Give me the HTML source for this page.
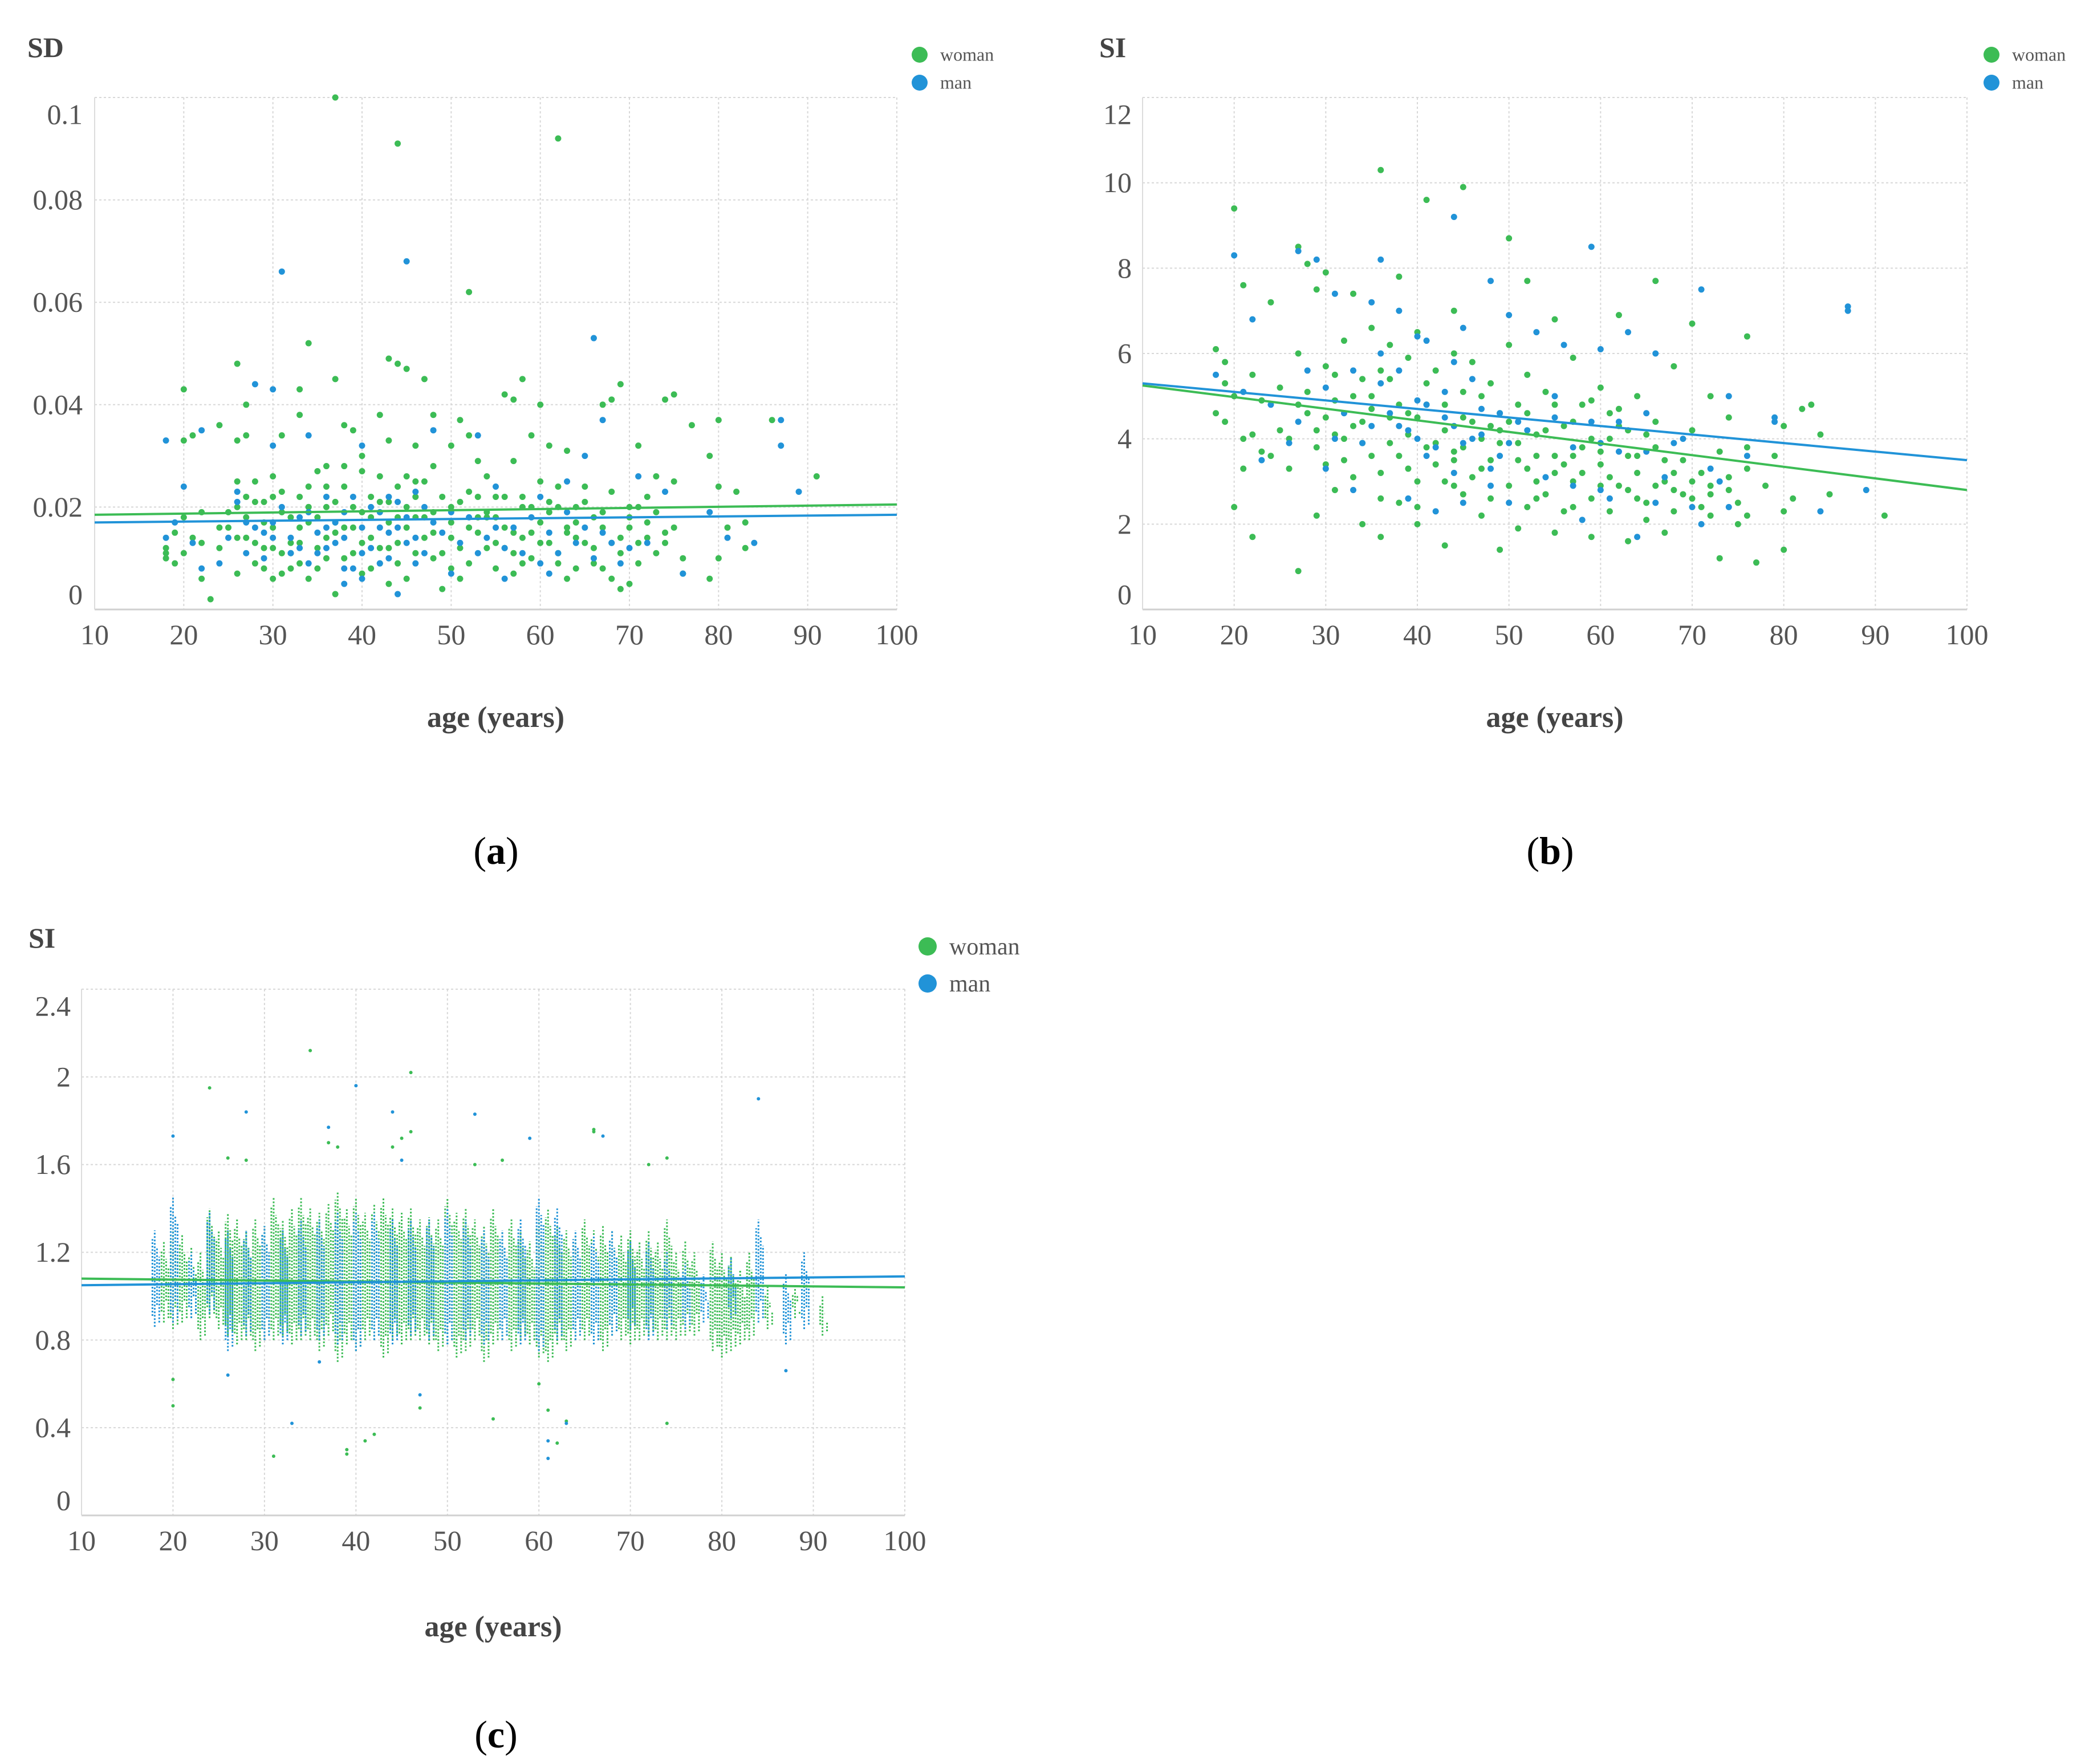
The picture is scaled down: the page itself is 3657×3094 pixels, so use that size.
<!DOCTYPE html>
<html><head><meta charset="utf-8"><style>
html,body{margin:0;padding:0;background:#fff}
svg{display:block;font-family:"Liberation Serif",serif}
</style></head><body>
<svg id="chart" width="3657" height="3094" viewBox="0 0 3657 3094" xmlns="http://www.w3.org/2000/svg"></svg>
<script>
// ---------- Panel (a): SD ----------
const aWomanAge=[37,44,62,52,34,43,44,45,26,47,37,58,69,20,33,56,57,75,74,27,60,67,68,77,80,86,91,24,33,42,48,51,18,20,21,26,27,31,38,39,43,46,50,52,59,61,63,71,79,82,83,83,81,80,80,79,76,75,73,72,71,70,69,68,66,64,64,62,61,60,59,58,57,56,55,55,54,53,52,51,50,50,49,48,47,46,45,44,44,43,43,42,41,41,40,40,39,38,37,37,36,36,35,35,34,34,33,33,32,32,31,31,30,30,29,29,28,28,27,27,26,26,25,24,23,22,22,21,20,19,19,18,38,42,45,48,53,57,62,65,67,74,76,40,36,34,30,46,54,58,63,70,72];
const aWomanVal=[.1,.091,.092,.062,.052,.049,.048,.047,.048,.045,.045,.045,.044,.043,.043,.042,.041,.042,.041,.04,.04,.04,.041,.036,.037,.037,.026,.036,.038,.038,.038,.037,.011,.033,.034,.033,.034,.034,.036,.035,.033,.032,.032,.034,.034,.032,.031,.032,.03,.023,.017,.012,.016,.024,.01,.006,.01,.025,.026,.014,.02,.005,.004,.006,.012,.02,.008,.024,.013,.017,.01,.02,.015,.022,.018,.008,.012,.022,.016,.012,.02,.008,.004,.015,.025,.011,.02,.013,.024,.017,.005,.009,.022,.014,.019,.007,.011,.024,.015,.003,.02,.01,.027,.012,.017,.006,.022,.013,.018,.008,.023,.011,.016,.006,.021,.012,.025,.009,.018,.014,.02,.007,.016,.012,.002,.019,.006,.014,.011,.009,.015,.012,.028,.026,.026,.028,.029,.029,.02,.024,.019,.013,.007,.03,.028,.024,.022,.018,.026,.014,.016,.018,.022];
const aWomanExtra=[[25,.019],[26,.014],[28,.021],[29,.008],[30,.012],[31,.019],[32,.013],[33,.009],[34,.02],[35,.018],[36,.014],[37,.021],[38,.01],[39,.016],[40,.013],[41,.018],[42,.021],[43,.012],[44,.009],[45,.016],[46,.022],[47,.014],[48,.019],[49,.011],[50,.017],[51,.021],[52,.009],[53,.015],[54,.019],[55,.013],[56,.016],[57,.011],[58,.009],[59,.02],[60,.013],[61,.019],[62,.011],[63,.015],[64,.017],[65,.013],[66,.009],[67,.016],[68,.013],[69,.011],[70,.02],[71,.009],[72,.017],[73,.011],[74,.015],[75,.016],[28,.013],[30,.026],[32,.011],[34,.02],[36,.024],[38,.016],[40,.027],[42,.012],[44,.018],[46,.025],[48,.01],[50,.014],[52,.023],[54,.018],[56,.012],[58,.022],[60,.025],[62,.009],[64,.014],[66,.018],[68,.023],[70,.016],[29,.017],[31,.007],[33,.016],[35,.008],[37,.017],[39,.02],[41,.008],[43,.021],[45,.006],[47,.018],[49,.022],[51,.006],[53,.018],[55,.022],[57,.007],[59,.015],[61,.021],[63,.006],[65,.021],[67,.008],[69,.014],[71,.013],[73,.019],[26,.025],[27,.022],[24,.016],[22,.013],[20,.018],[18,.01]];
const aManAge=[31,45,66,28,30,87,87,89,18,22,20,26,30,34,40,43,46,48,53,55,60,63,65,67,71,74,79,81,84,76,72,69,67,64,61,60,58,56,54,52,50,49,47,45,44,43,42,41,40,39,38,37,36,35,34,33,32,31,30,29,28,27,26,24,22,21,18,19,38,46,57,62,70];
const aManVal=[.066,.068,.053,.044,.043,.037,.032,.023,.033,.035,.024,.023,.032,.034,.032,.022,.023,.035,.034,.024,.022,.025,.03,.037,.026,.023,.019,.014,.013,.007,.013,.009,.015,.013,.007,.009,.011,.006,.014,.018,.007,.015,.02,.013,.003,.01,.016,.012,.006,.008,.019,.013,.022,.015,.009,.018,.011,.02,.014,.01,.016,.011,.021,.009,.008,.013,.014,.017,.005,.009,.016,.011,.012];
const aManExtra=[[30,.017],[32,.014],[34,.019],[36,.012],[37,.017],[38,.014],[39,.022],[40,.016],[41,.02],[42,.009],[43,.015],[44,.021],[45,.018],[46,.014],[47,.011],[48,.017],[50,.019],[51,.013],[53,.011],[55,.016],[56,.012],[59,.018],[61,.015],[63,.019],[65,.016],[66,.01],[68,.013],[40,.011],[42,.019],[44,.016],[36,.016],[38,.008],[33,.012],[35,.011],[29,.015],[27,.017],[25,.014]];
const aTrendWoman=[0.0185,0.0205]; // value at age 10, at age 100
const aTrendMan=[0.0170,0.0185];
const aYTicks=[0,0.02,0.04,0.06,0.08,0.1];
const aYLabels=["0","0.02","0.04","0.06","0.08","0.1"];

// ---------- Panel (b): SI ----------
const bWomanAge=[20,36,41,45,50,27,28,30,21,24,29,33,38,44,52,66,62,70,76,18,19,22,25,27,30,32,34,35,37,39,40,42,44,46,48,50,52,54,55,57,58,60,62,64,66,68,70,72,74,76,80,82,83,84,20,22,27,29,31,34,36,38,40,43,45,47,49,51,53,55,57,59,61,63,65,67,69,71,73,75,77,80,80,85,91,19,21,23,25,26,28,29,31,32,33,34,35,36,37,38,39,40,41,42,43,44,45,46,47,48,49,50,51,52,53,54,55,56,57,58,59,60,61,62,63,64,65,66,67,68,69,70,71,72,73,74,75,76,78,79,81];
const bWomanVal=[9.4,10.3,9.6,9.9,8.7,8.5,8.1,7.9,7.6,7.2,7.5,7.4,7.8,7.0,7.7,7.7,6.9,6.7,6.4,6.1,5.8,5.5,5.2,6.0,5.7,6.3,5.4,6.6,6.2,5.9,6.5,5.6,6.0,5.8,5.3,6.2,5.5,5.1,6.8,5.9,4.8,5.2,4.7,5.0,4.4,5.7,4.2,5.0,4.5,3.8,4.3,4.7,4.8,4.1,2.4,1.7,0.9,2.2,2.8,2.0,1.7,2.5,2.0,1.5,2.7,2.2,1.4,1.9,2.6,1.8,2.4,1.7,2.3,1.6,2.1,1.8,2.7,2.4,1.2,2.0,1.1,1.4,2.3,2.7,2.2,4.4,4.0,3.7,4.2,3.3,4.6,3.8,4.9,3.5,4.3,3.9,4.7,3.2,4.5,3.6,4.1,3.0,4.8,3.4,4.2,3.7,4.5,3.1,4.0,3.5,4.6,2.9,3.9,3.3,4.1,2.7,3.6,4.3,3.0,3.8,2.6,3.4,4.0,2.9,3.6,3.2,2.5,3.8,3.0,2.8,3.5,2.6,3.2,2.2,3.7,2.8,2.5,3.3,2.9,3.6,2.6];
const bWomanExtra=[[28,5.1],[29,4.2],[30,3.4],[31,5.5],[32,4.0],[33,5.0],[34,4.4],[35,3.6],[36,5.6],[37,3.9],[38,4.8],[39,3.3],[40,4.5],[41,5.3],[42,3.9],[43,4.8],[44,3.5],[45,5.1],[46,4.4],[47,3.3],[48,4.3],[49,3.9],[50,4.4],[51,3.5],[52,4.6],[53,3.0],[54,4.2],[55,4.8],[56,3.4],[57,4.4],[58,3.2],[59,4.0],[60,3.7],[61,3.1],[62,4.3],[63,2.8],[64,3.6],[65,4.1],[66,2.9],[67,3.5],[68,3.2],[70,3.0],[72,2.7],[74,3.1],[31,4.1],[33,3.1],[35,5.0],[37,5.4],[39,4.6],[41,3.8],[43,3.0],[45,3.8],[47,5.0],[49,4.2],[51,4.8],[53,3.6],[55,3.2],[57,3.6],[59,4.9],[61,4.6],[63,4.2],[30,4.5],[27,4.8],[26,4.0],[24,3.6],[23,4.9],[22,4.1],[20,5.0],[18,4.6],[19,5.3],[21,3.3],[36,2.6],[40,2.4],[44,2.9],[48,2.6],[52,2.4],[56,2.3],[60,2.9],[64,2.6],[68,2.3],[72,2.9],[76,2.2]];
const bManAge=[44,20,27,29,36,48,59,71,87,87,22,31,35,38,41,45,50,53,56,60,63,66,74,79,84,89,18,21,24,27,30,32,34,36,38,40,41,43,44,46,47,49,50,52,54,55,57,59,60,62,64,65,67,69,70,72,74,76,79,23,30,33,39,42,45,48,58,61,66,71];
const bManVal=[9.2,8.3,8.4,8.2,8.2,7.7,8.5,7.5,7.1,7.0,6.8,7.4,7.2,7.0,6.3,6.6,6.9,6.5,6.2,6.1,6.5,6.0,5.0,4.5,2.3,2.8,5.5,5.1,4.8,4.4,5.2,4.6,3.9,5.3,4.3,4.9,3.6,4.5,3.2,4.0,4.7,3.6,2.5,4.2,3.1,5.0,3.8,4.4,2.8,3.7,1.7,4.6,3.1,4.0,2.4,3.3,2.4,3.6,4.4,3.5,3.3,2.8,2.6,2.3,2.5,2.9,2.1,2.6,2.5,2.0];
const bManExtra=[[37,4.6],[38,5.6],[39,4.2],[40,4.0],[41,4.8],[42,3.8],[43,5.1],[44,4.3],[45,3.9],[46,5.4],[47,4.1],[48,3.3],[49,4.6],[50,3.9],[51,4.4],[35,4.3],[33,5.6],[31,4.0],[28,5.6],[26,3.9],[55,4.5],[57,2.9],[60,3.9],[62,4.4],[65,3.7],[68,3.9],[73,3.0],[36,6.0],[40,6.4],[44,5.8]];
const bTrendWoman=[5.25,2.8];
const bTrendMan=[5.3,3.5];
const bYTicks=[0,2,4,6,8,10,12];
const bYLabels=["0","2","4","6","8","10","12"];

// ---------- Panel (c): SI (stripes of dense points) ----------
const cWomanAge=[19,20,21,22,23,24,25,26,27,28,29,30,31,32,33,34,35,36,37,38,39,40,41,42,43,44,45,46,47,48,49,50,51,52,53,54,55,56,57,58,59,60,61,62,63,64,65,66,67,68,69,70,71,72,73,74,75,76,77,79,80,81,82,83,85,88,91];
const cWomanLo=[.88,.85,.88,.9,.8,.9,.85,.82,.78,.8,.75,.8,.8,.82,.78,.8,.8,.75,.82,.7,.78,.75,.8,.8,.72,.8,.78,.8,.8,.78,.75,.78,.72,.75,.8,.7,.78,.8,.75,.8,.78,.72,.7,.78,.75,.8,.8,.78,.75,.82,.8,.78,.8,.82,.8,.8,.8,.82,.82,.75,.72,.75,.78,.8,.85,.9,.82];
const cWomanHi=[1.25,1.3,1.28,1.22,1.2,1.4,1.3,1.38,1.35,1.3,1.35,1.32,1.45,1.35,1.4,1.45,1.4,1.38,1.42,1.48,1.4,1.45,1.38,1.42,1.45,1.4,1.38,1.4,1.35,1.36,1.35,1.45,1.38,1.4,1.35,1.32,1.4,1.3,1.35,1.3,1.25,1.35,1.4,1.32,1.3,1.28,1.35,1.3,1.32,1.3,1.28,1.3,1.25,1.3,1.25,1.35,1.2,1.25,1.2,1.25,1.2,1.18,1.12,1.2,1.05,1.05,1.0];
const cManAge=[18,20,22,24,26,28,30,32,34,36,38,40,42,44,46,48,50,52,54,56,58,60,62,64,66,68,70,72,74,76,78,81,84,87,89];
const cManLo=[.86,.88,.9,.92,.75,.82,.8,.78,.82,.8,.78,.75,.8,.78,.82,.8,.78,.8,.78,.8,.78,.75,.8,.8,.78,.82,.85,.8,.85,.85,.88,.9,.88,.78,.85];
const cManHi=[1.3,1.45,1.2,1.38,1.3,1.3,1.32,1.3,1.35,1.35,1.38,1.38,1.38,1.35,1.35,1.35,1.4,1.35,1.3,1.3,1.35,1.45,1.4,1.3,1.28,1.3,1.25,1.25,1.2,1.15,1.1,1.18,1.35,1.1,1.2];
const cOutWomanAge=[35,24,46,46,20,20,39,39,41,42,31,47,55,60,61,62,74,63,26,28,37,38,44,45,53,56,66,66,72,74];
const cOutWomanVal=[2.12,1.95,2.02,1.75,.62,.5,.3,.28,.34,.37,.27,.49,.44,.6,.48,.33,.42,.43,1.63,1.62,1.7,1.68,1.68,1.72,1.6,1.62,1.76,1.75,1.6,1.63];
const cOutManAge=[40,28,44,53,84,33,61,61,63,47,59,67,87,20,37,45,26,36];
const cOutManVal=[1.96,1.84,1.84,1.83,1.9,.42,.26,.34,.42,.55,1.72,1.73,.66,1.73,1.77,1.62,.64,.7];
const cTrendWoman=[1.08,1.04];
const cTrendMan=[1.05,1.09];
const cYTicks=[0,0.4,0.8,1.2,1.6,2,2.4];
const cYLabels=["0","0.4","0.8","1.2","1.6","2","2.4"];

const xTicks=[10,20,30,40,50,60,70,80,90,100];
const xLabels=["10","20","30","40","50","60","70","80","90","100"];

const GREEN="#3cbc55", BLUE="#2193d8";
const NS="http://www.w3.org/2000/svg";
const svg=document.getElementById('chart');
function mk(tag,attrs,parent){const e=document.createElementNS(NS,tag);for(const k in attrs)e.setAttribute(k,attrs[k]);(parent||svg).appendChild(e);return e;}
function txt(s,attrs,parent){const e=mk('text',attrs,parent);e.textContent=s;return e;}

function panel(p){
  const g=mk('g',{});
  
  
  const xs=v=>p.x0+(v-10)/90*(p.x1-p.x0);
  const ys=v=>p.y1-(v-p.yMin)/(p.yMax-p.yMin)*(p.y1-p.y0);
  const grid=mk('g',{},g);
  
  
  xTicks.forEach(t=>{mk('line',{x1:xs(t),x2:xs(t),y1:p.y0,y2:p.y1,stroke:'#d8d8d8','stroke-width':2,'stroke-dasharray':'4 4'},grid);});
  p.yTicks.forEach(t=>{mk('line',{x1:p.x0,x2:p.x1,y1:ys(t),y2:ys(t),stroke:'#d8d8d8','stroke-width':2,'stroke-dasharray':'4 4'},grid);});
  const ax=mk('line',{x1:p.x0,x2:p.x1,y1:p.y1,y2:p.y1,stroke:'#d0d0d0','stroke-width':3},g);
  
  
  const ay=mk('line',{x1:p.x0,x2:p.x0,y1:p.y0,y2:p.y1,stroke:'#dcdcdc','stroke-width':2},g);
  
  
  xTicks.forEach((t,i)=>{const e=txt(xLabels[i],{x:xs(t),y:p.y1+61,'font-size':p.tickFs,fill:'#555','text-anchor':'middle'},g);
    
    });
  p.yTicks.forEach((t,i)=>{let yy=ys(t)+p.tickFs*0.33;if(i===0)yy-=26;if(i===p.yTicks.length-1)yy+=30;
    const e=txt(p.yLabels[i],{x:p.labX,y:yy,'font-size':p.tickFs,fill:'#555','text-anchor':'end'},g);
    
    });
  const draw=(ages,vals,color,nm)=>{const s=mk('g',{fill:color},g);
    
    
    ages.forEach((a,i)=>{const c=mk('circle',{cx:xs(a),cy:ys(vals[i]),r:p.r},s);
      
      });};
  if(p.stripes){
    const st=(ages,lo,hi,color,nm)=>{const s=mk('g',{stroke:color,'stroke-width':3,'stroke-dasharray':'3 3'},g);
      
      
      ages.forEach((a,i)=>{
        [[0,0,0],[-4,0.05,0.04],[4,0.1,0.08],[8,0.02,0.12]].forEach(([dx,dl,dh])=>{
          const l=mk('line',{x1:xs(a)+dx,x2:xs(a)+dx,y1:ys(lo[i]+dl),y2:ys(hi[i]-dh)},s);
          
          });});};
    st(p.stripes.wA,p.stripes.wL,p.stripes.wH,GREEN,'woman-points');
    st(p.stripes.mA,p.stripes.mL,p.stripes.mH,BLUE,'man-points');
  }
  draw(p.wAge,p.wVal,GREEN,'woman-points');
  if(p.wX)draw(p.wX.map(d=>d[0]),p.wX.map(d=>d[1]),GREEN,'woman-points-extra');
  draw(p.mAge,p.mVal,BLUE,'man-points');
  if(p.mX)draw(p.mX.map(d=>d[0]),p.mX.map(d=>d[1]),BLUE,'man-points-extra');
  const tl=(tr,color,nm)=>{const l=mk('line',{x1:xs(10),x2:xs(100),y1:ys(tr[0]),y2:ys(tr[1]),stroke:color,'stroke-width':4},g);
    
    };
  tl(p.tw,GREEN,'woman-trend-line');
  tl(p.tm,BLUE,'man-trend-line');
  const yt=txt(p.yTitle,{x:p.ytX,y:p.ytY,'font-size':50,'font-weight':'bold',fill:'#444'},g);
  
  
  const xt=txt('age (years)',{x:(p.x0+p.x1)/2,y:p.xtY,'font-size':52,'font-weight':'bold',fill:'#444','text-anchor':'middle'},g);
  
  
  const pl=mk('text',{x:p.plX,y:p.plY,'font-size':68,fill:'#000','text-anchor':'middle'},g);
  
  
  pl.innerHTML='(<tspan font-weight="bold">'+p.letter+'</tspan>)';
  const lg=mk('g',{},g);
  
  
  [['woman',GREEN,0],['man',BLUE,1]].forEach(([n,c,i])=>{
    const e=mk('g',{},lg);
    
    
    mk('circle',{cx:p.lgX,cy:p.lgY+i*p.lgDy,r:p.lgR,fill:c},e);
    txt(n,{x:p.lgX+p.lgR+22,y:p.lgY+i*p.lgDy+p.lgFs*0.33,'font-size':p.lgFs,fill:'#555'},e);
  });
}

panel({name:'panel-a-sd',x0:166,x1:1573,y0:171,y1:1069,yMin:0,yMax:0.1,yTicks:aYTicks,yLabels:aYLabels,labX:145,tickFs:50,r:5.5,
  wAge:aWomanAge,wVal:aWomanVal,wX:aWomanExtra,mAge:aManAge,mVal:aManVal,mX:aManExtra,tw:aTrendWoman,tm:aTrendMan,
  yTitle:'SD',ytX:48,ytY:100,xtY:1275,plX:870,plY:1515,letter:'a',lgX:1613,lgY:96,lgDy:49,lgR:14,lgFs:32});
panel({name:'panel-b-si',x0:2004,x1:3450,y0:171,y1:1069,yMin:0,yMax:12,yTicks:bYTicks,yLabels:bYLabels,labX:1985,tickFs:50,r:5.5,
  wAge:bWomanAge,wVal:bWomanVal,wX:bWomanExtra,mAge:bManAge,mVal:bManVal,mX:bManExtra,tw:bTrendWoman,tm:bTrendMan,
  yTitle:'SI',ytX:1928,ytY:100,xtY:1275,plX:2719,plY:1515,letter:'b',lgX:3493,lgY:96,lgDy:49,lgR:14,lgFs:32});
panel({name:'panel-c-si',x0:143,x1:1587,y0:1735,y1:2658,yMin:0,yMax:2.4,yTicks:cYTicks,yLabels:cYLabels,labX:124,tickFs:50,r:3,
  wAge:cOutWomanAge,wVal:cOutWomanVal,mAge:cOutManAge,mVal:cOutManVal,tw:cTrendWoman,tm:cTrendMan,
  stripes:{wA:cWomanAge,wL:cWomanLo,wH:cWomanHi,mA:cManAge,mL:cManLo,mH:cManHi},
  yTitle:'SI',ytX:50,ytY:1662,xtY:2870,plX:870,plY:3065,letter:'c',lgX:1627,lgY:1660,lgDy:65,lgR:16,lgFs:42});
</script>
</body></html>
